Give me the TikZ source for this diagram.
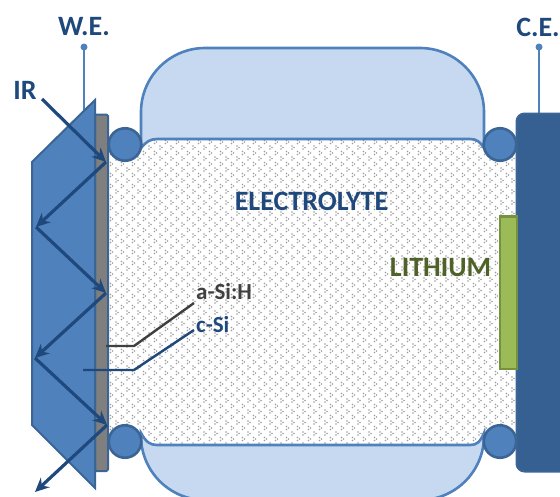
\documentclass[tikz,border=0pt]{standalone}
\usepackage{fontspec}
\setmainfont{Carlito}
\usetikzlibrary{patterns,arrows.meta}
\pgfdeclarepatternformonly{eldots}{\pgfqpoint{-2pt}{-2pt}}{\pgfqpoint{12pt}{12pt}}{\pgfqpoint{11pt}{11pt}}{%
  \pgfpathcircle{\pgfqpoint{0.5pt}{0.5pt}}{0.8pt}
  \pgfpathcircle{\pgfqpoint{2.5pt}{2pt}}{0.8pt}
  \pgfpathcircle{\pgfqpoint{0.5pt}{3.5pt}}{0.8pt}
  \pgfpathcircle{\pgfqpoint{6pt}{6pt}}{0.8pt}
  \pgfpathcircle{\pgfqpoint{8pt}{7.5pt}}{0.8pt}
  \pgfpathcircle{\pgfqpoint{6pt}{9pt}}{0.8pt}
  \pgfusepath{fill}}
\definecolor{dk}{HTML}{1F497D}
\definecolor{mid}{HTML}{4F81BD}
\definecolor{lt}{HTML}{C6D9F1}
\definecolor{ce}{HTML}{376092}
\definecolor{edge}{HTML}{3A6595}
\definecolor{li}{HTML}{9BBB59}
\definecolor{lidk}{HTML}{76923C}
\definecolor{olive}{HTML}{4F6228}
\definecolor{gr}{HTML}{7F7F7F}
\tikzset{
  res/.style={fill=lt,draw=mid,line width=2.6pt},
  ring/.style={circle,minimum size=32.5pt,inner sep=0pt,fill=mid,draw=edge,line width=2.6pt},
  wire/.style={draw=mid,line width=2.8pt},
  ray/.style={draw=dk,line width=3.2pt,-{Stealth[length=14pt,width=13pt]}},
  lab/.style={font=\fontsize{28}{28}\selectfont\bfseries,text=dk,inner sep=0pt},
  smalllab/.style={font=\fontsize{23}{23}\selectfont\bfseries,inner sep=0pt},
}
\begin{document}
\begin{tikzpicture}[x=1pt,y=-1pt]
\useasboundingbox (0,0) rectangle (560,496);
\clip (0,0) rectangle (560,496);
% electrolyte
\fill[white] (108,148) -- (141,148) .. controls (146,142) and (150,139) .. (157,139) -- (470,139) .. controls (477,139) and (480,142) .. (484,148) -- (516,148) -- (516,436) -- (484,436) .. controls (480,442) and (477,445) .. (470,445) -- (157,445) .. controls (150,445) and (146,442) .. (141,436) -- (108,436) -- cycle;
\fill[pattern=eldots,pattern color=black!38] (108,148) -- (141,148) .. controls (146,142) and (150,139) .. (157,139) -- (470,139) .. controls (477,139) and (480,142) .. (484,148) -- (516,148) -- (516,436) -- (484,436) .. controls (480,442) and (477,445) .. (470,445) -- (157,445) .. controls (150,445) and (146,442) .. (141,436) -- (108,436) -- cycle;
% reservoirs
\draw[res] (141,148) -- (141,112) .. controls (141,76.7) and (169.7,48) .. (205,48) -- (420,48) .. controls (455.3,48) and (484,76.7) .. (484,112) -- (484,148) .. controls (480,142) and (477,139) .. (470,139) -- (157,139) .. controls (150,139) and (146,142) .. (141,148) -- cycle;
\draw[res] (141,433) -- (141,436) .. controls (141,471.3) and (169.7,500) .. (205,500) -- (420,500) .. controls (455.3,500) and (484,471.3) .. (484,436) -- (484,433) .. controls (480,442) and (477,445) .. (470,445) -- (157,445) .. controls (150,445) and (146,442) .. (141,433) -- cycle;
% wires
\coordinate (wetop) at (84,47);
\coordinate (cetop) at (539,47);
\coordinate (webot) at (84,115);
\coordinate (cebot) at (539,115);
\draw[wire] (wetop) -- (webot);
\draw[wire] (cetop) -- (cebot);
\fill[mid] (wetop) circle (3.5);
\fill[mid] (cetop) circle (3.5);
% counter electrode
\draw[fill=ce,draw=edge,line width=2pt,rounded corners=8pt] (516.5,113.5) rectangle (575,471.5);
\draw[fill=li,draw=lidk,line width=2.4pt] (500,216.5) rectangle (517,369);
% plate and prism
\draw[fill=gr,draw=edge,line width=2pt,rounded corners=1.5pt] (95,114.5) rectangle (108,471);
\draw[fill=mid,draw=edge,line width=2pt,line join=miter] (32,162) -- (95,100) -- (95,488) -- (32,425) -- cycle;
% rings
\node[ring] (r1) at (125,144.5) {};
\node[ring] (r2) at (125,441.5) {};
\node[ring] (r3) at (500,144.5) {};
\node[ring] (r4) at (500,441.5) {};
% rays
\coordinate (p0) at (42,99);
\coordinate (p1) at (106,162);
\coordinate (p2) at (36,227);
\coordinate (p3) at (106,293);
\coordinate (p4) at (35,358);
\coordinate (p5) at (107,425);
\coordinate (p6) at (35,492);
\draw[ray] (p0) -- (p1);
\draw[ray] (p1) -- (p2);
\draw[ray] (p2) -- (p3);
\draw[ray] (p3) -- (p4);
\draw[ray] (p4) -- (p5);
\draw[ray] (p5) -- (p6);
% labels
\node[lab] (we) at (84,27) {W.E.};
\node[lab] (ce) at (538,27) {C.E.};
\node[lab] (ir) at (25,90) {IR};
\node[lab] (el) at (311.5,201) {ELECTROLYTE};
\node[lab,text=olive] (lit) at (440.5,268) {LITHIUM};
\node[smalllab,text=black!75,anchor=west] (asi) at (196,292) {a-Si:H};
\node[smalllab,text=dk,anchor=west] (csi) at (196,325) {c-Si};
% leaders
\coordinate (a0) at (106,346);
\coordinate (a1) at (134,346);
\coordinate (a2) at (194,303);
\coordinate (c0) at (83,370);
\coordinate (c1) at (134,370);
\coordinate (c2) at (194,330);
\draw[draw=black!75,line width=2.4pt] (a0) -- (a1) -- (a2);
\draw[draw=dk,line width=2.4pt] (c0) -- (c1) -- (c2);
\end{tikzpicture}
\end{document}
